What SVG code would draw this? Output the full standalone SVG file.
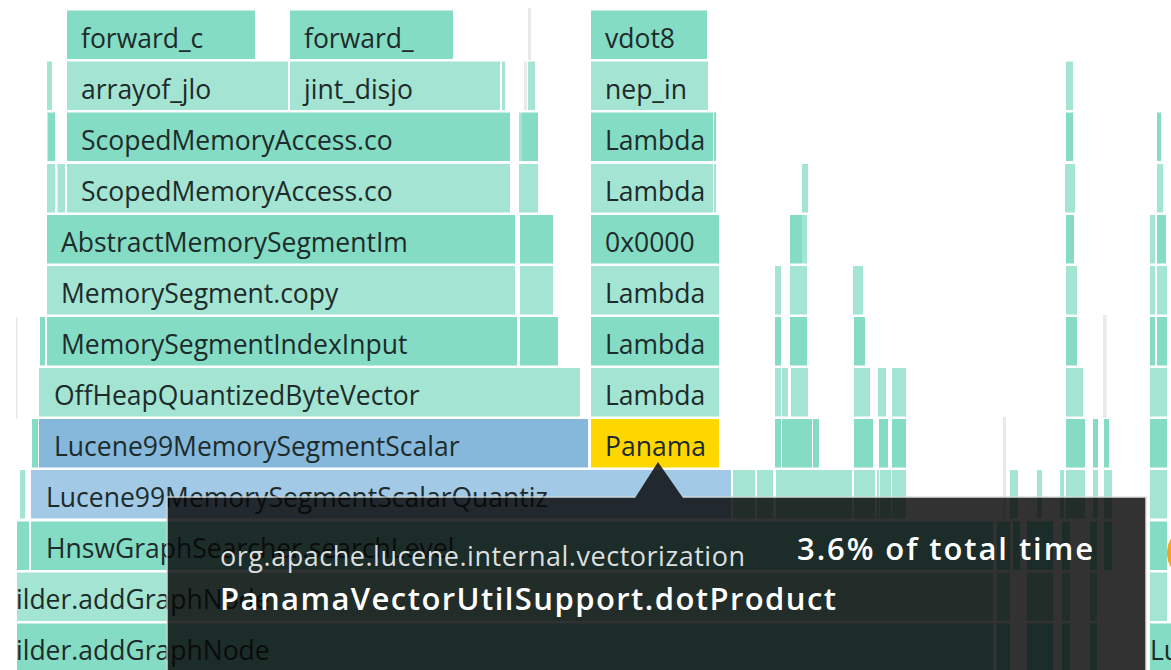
<svg xmlns="http://www.w3.org/2000/svg" width="1171" height="670" viewBox="0 0 1171 670">
  <style>
    .d { fill: #84dcc4; }
    .l { fill: #a3e4d3; }
    .b { fill: #86b8dc; }
    .lb { fill: #a2c9e6; }
    .y { fill: #fed700; }
    .g { fill: #e6eaea; }
    .lbl { font-family: "Open Sans", "Noto Sans", sans-serif; font-size: 26.5px; fill: #1d2b2a; }
    .tip-pkg { font-family: "Open Sans", "Noto Sans", sans-serif; font-size: 27px; fill: #dcdfdf; }
    .tip-fn { font-family: "Open Sans", "Noto Sans", sans-serif; font-size: 31px; font-weight: 600; fill: #ffffff; }
  </style>
  <rect width="1171" height="670" fill="#ffffff"/>

  <!-- flame graph frames, one row per stack depth (row pitch 51px) -->
  <g id="frames">
    <!-- faint guide lines -->
    <rect class="g" x="528" y="8" width="3" height="52"/>
    <rect class="g" x="16" y="317" width="1.5" height="102"/>
    <rect class="g" x="1003" y="417" width="3" height="104"/>
    <rect class="g" x="1103" y="315" width="3.5" height="103"/>

    <!-- row 0 -->
    <g id="forward_c"><rect class="d" x="67" y="10.5" width="188" height="48.5"/><text class="lbl" x="81" y="48">forward_c</text></g>
    <g id="forward_"><rect class="d" x="290" y="10.5" width="163" height="48.5"/><text class="lbl" x="304" y="48">forward_</text></g>
    <g id="vdot8"><rect class="d" x="591" y="10.5" width="116" height="48.5"/><text class="lbl" x="605" y="48">vdot8</text></g>

    <!-- row 1 -->
    <g id="row1-narrow">
      <rect class="l" x="47" y="61.5" width="5" height="48.5"/>
      <rect class="l" x="502" y="61.5" width="3" height="48.5"/>
      <rect class="g" x="524" y="61.5" width="3" height="48.5"/>
      <rect class="l" x="528" y="61.5" width="7" height="48.5"/>
      <rect class="l" x="1066" y="61.5" width="7" height="48.5"/>
    </g>
    <g id="arrayof_jlo"><rect class="l" x="67" y="61.5" width="221" height="48.5"/><text class="lbl" x="81" y="99">arrayof_jlo</text></g>
    <g id="jint_disjo"><rect class="l" x="290" y="61.5" width="210" height="48.5"/><text class="lbl" x="304" y="99">jint_disjo</text></g>
    <g id="nep_in"><rect class="l" x="591" y="61.5" width="117" height="48.5"/><text class="lbl" x="605" y="99">nep_in</text></g>

    <!-- row 2 -->
    <g id="row2-narrow">
      <rect class="d" x="47.5" y="112.5" width="7.5" height="48.5"/>
      <rect class="l" x="519" y="112.5" width="3" height="48.5"/>
      <rect class="d" x="522" y="112.5" width="16" height="48.5"/>
      <rect class="d" x="714" y="112.5" width="2" height="48.5"/>
      <rect class="d" x="1066" y="112.5" width="7" height="48.5"/>
      <rect class="d" x="1157" y="112.5" width="4" height="48.5"/>
    </g>
    <g id="scoped-1"><rect class="d" x="67" y="112.5" width="443" height="48.5"/><text class="lbl" x="81" y="150">ScopedMemoryAccess.co</text></g>
    <g id="lambda-1"><rect class="d" x="591" y="112.5" width="122" height="48.5"/><text class="lbl" x="605" y="150">Lambda</text></g>

    <!-- row 3 -->
    <g id="row3-narrow">
      <rect class="l" x="47" y="164" width="8" height="48.5"/>
      <rect class="l" x="57.5" y="164" width="7.5" height="48.5"/>
      <rect class="l" x="519" y="164" width="3" height="48.5"/>
      <rect class="l" x="522" y="164" width="16" height="48.5"/>
      <rect class="l" x="714" y="164" width="2" height="48.5"/>
      <rect class="l" x="802" y="164" width="6" height="48.5"/>
      <rect class="l" x="1065" y="164" width="10" height="48.5"/>
      <rect class="l" x="1157" y="164" width="6" height="48.5"/>
    </g>
    <g id="scoped-2"><rect class="l" x="67" y="164" width="443" height="48.5"/><text class="lbl" x="81" y="201">ScopedMemoryAccess.co</text></g>
    <g id="lambda-2"><rect class="l" x="591" y="164" width="122" height="48.5"/><text class="lbl" x="605" y="201">Lambda</text></g>

    <!-- row 4 -->
    <g id="row4-narrow">
      <rect class="d" x="520" y="215" width="33" height="48.5"/>
      <rect class="d" x="790" y="215" width="12" height="48.5"/>
      <rect class="l" x="802" y="215" width="5" height="48.5"/>
      <rect class="d" x="1066" y="215" width="8" height="48.5"/>
      <rect class="l" x="1150" y="215" width="5" height="48.5"/>
      <rect class="d" x="1157" y="215" width="9" height="48.5"/>
    </g>
    <g id="abstract-segment"><rect class="d" x="47" y="215" width="468" height="48.5"/><text class="lbl" x="61" y="252">AbstractMemorySegmentIm</text></g>
    <g id="addr-0x0000"><rect class="d" x="591" y="215" width="128" height="48.5"/><text class="lbl" x="605" y="252">0x0000</text></g>

    <!-- row 5 -->
    <g id="row5-narrow">
      <rect class="l" x="520" y="266" width="33" height="48.5"/>
      <rect class="l" x="775" y="266" width="6" height="48.5"/>
      <rect class="l" x="790" y="266" width="17" height="48.5"/>
      <rect class="l" x="853" y="266" width="10" height="48.5"/>
      <rect class="l" x="1066" y="266" width="11" height="48.5"/>
      <rect class="l" x="1150" y="266" width="5" height="48.5"/>
      <rect class="l" x="1157" y="266" width="10" height="48.5"/>
    </g>
    <g id="segment-copy"><rect class="l" x="47" y="266" width="468" height="48.5"/><text class="lbl" x="61" y="303">MemorySegment.copy</text></g>
    <g id="lambda-3"><rect class="l" x="591" y="266" width="128" height="48.5"/><text class="lbl" x="605" y="303">Lambda</text></g>

    <!-- row 6 -->
    <g id="row6-narrow">
      <rect class="d" x="40" y="317" width="5" height="48.5"/>
      <rect class="d" x="520" y="317" width="38" height="48.5"/>
      <rect class="d" x="775" y="317" width="6" height="48.5"/>
      <rect class="d" x="790" y="317" width="17" height="48.5"/>
      <rect class="d" x="854" y="317" width="11" height="48.5"/>
      <rect class="d" x="1066" y="317" width="11" height="48.5"/>
      <rect class="d" x="1150" y="317" width="5" height="48.5"/>
      <rect class="d" x="1157" y="317" width="10" height="48.5"/>
    </g>
    <g id="segment-index-input"><rect class="d" x="47" y="317" width="470" height="48.5"/><text class="lbl" x="61" y="354">MemorySegmentIndexInput</text></g>
    <g id="lambda-4"><rect class="d" x="591" y="317" width="128" height="48.5"/><text class="lbl" x="605" y="354">Lambda</text></g>

    <!-- row 7 -->
    <g id="row7-narrow">
      <rect class="l" x="775" y="368" width="6" height="48.5"/>
      <rect class="l" x="782" y="368" width="6" height="48.5"/>
      <rect class="l" x="791" y="368" width="17" height="48.5"/>
      <rect class="l" x="854" y="368" width="16" height="48.5"/>
      <rect class="l" x="878" y="368" width="8" height="48.5"/>
      <rect class="l" x="892" y="368" width="14" height="48.5"/>
      <rect class="l" x="1066" y="368" width="17" height="48.5"/>
      <rect class="l" x="1150" y="368" width="17" height="48.5"/>
    </g>
    <g id="offheap-vector"><rect class="l" x="39" y="368" width="541" height="48.5"/><text class="lbl" x="54" y="405">OffHeapQuantizedByteVector</text></g>
    <g id="lambda-5"><rect class="l" x="591" y="368" width="128" height="48.5"/><text class="lbl" x="605" y="405">Lambda</text></g>

    <!-- row 8 -->
    <g id="row8-narrow">
      <rect class="d" x="32" y="419" width="6" height="48.5"/>
      <rect class="d" x="775" y="419" width="6" height="48.5"/>
      <rect class="d" x="782" y="419" width="30" height="48.5"/>
      <rect class="d" x="813" y="419" width="6" height="48.5"/>
      <rect class="d" x="854" y="419" width="19" height="48.5"/>
      <rect class="d" x="879" y="419" width="9" height="48.5"/>
      <rect class="d" x="892" y="419" width="14" height="48.5"/>
      <rect class="d" x="1066" y="419" width="19" height="48.5"/>
      <rect class="d" x="1093" y="419" width="5" height="48.5"/>
      <rect class="d" x="1104" y="419" width="5" height="48.5"/>
      <rect class="d" x="1150" y="419" width="17" height="48.5"/>
    </g>
    <g id="scalar-scorer"><rect class="b" x="39" y="419" width="549" height="48.5"/><text class="lbl" x="54" y="456">Lucene99MemorySegmentScalar</text></g>
    <g id="panama"><rect class="y" x="591" y="419" width="128" height="48.5"/><text class="lbl" x="605" y="456">Panama</text></g>

    <!-- row 9 -->
    <g id="row9-narrow">
      <rect class="l" x="20" y="470" width="5" height="48.5"/>
      <rect class="l" x="733" y="470" width="22" height="48.5"/>
      <rect class="l" x="757" y="470" width="16" height="48.5"/>
      <rect class="l" x="776" y="470" width="76" height="48.5"/>
      <rect class="l" x="854" y="470" width="21" height="48.5"/>
      <rect class="l" x="877" y="470" width="2" height="48.5"/>
      <rect class="l" x="880" y="470" width="11" height="48.5"/>
      <rect class="l" x="892" y="470" width="14" height="48.5"/>
      <rect class="l" x="1010" y="470" width="8" height="48.5"/>
      <rect class="l" x="1037" y="470" width="5" height="48.5"/>
      <rect class="l" x="1060" y="470" width="4" height="48.5"/>
      <rect class="l" x="1066" y="470" width="19" height="48.5"/>
      <rect class="l" x="1093" y="470" width="5" height="48.5"/>
      <rect class="l" x="1104" y="470" width="8" height="48.5"/>
      <rect class="l" x="1150" y="470" width="17" height="48.5"/>
    </g>
    <g id="scalar-quantized"><rect class="lb" x="31" y="470" width="700" height="48.5"/><text class="lbl" x="46" y="507">Lucene99MemorySegmentScalarQuantiz</text></g>

    <!-- row 10 -->
    <g id="row10-narrow">
      <rect class="d" x="17" y="521.5" width="12" height="48.5"/>
      <rect class="d" x="997" y="521.5" width="13" height="48.5"/>
      <rect class="d" x="1013" y="521.5" width="7" height="48.5"/>
      <rect class="d" x="1027" y="521.5" width="26" height="48.5"/>
      <rect class="d" x="1062" y="521.5" width="8" height="48.5"/>
      <rect class="d" x="1090" y="521.5" width="7" height="48.5"/>
      <rect class="d" x="1104" y="521.5" width="8" height="48.5"/>
      <rect class="d" x="1150" y="521.5" width="17" height="48.5"/>
    </g>
    <g id="search-level"><rect class="d" x="31" y="521.5" width="962" height="48.5"/><text class="lbl" x="46" y="558">HnswGraphSearcher.searchLevel</text></g>

    <!-- row 11 -->
    <g id="row11-narrow">
      <rect class="l" x="997" y="572.5" width="13" height="48.5"/>
      <rect class="l" x="1027" y="572.5" width="26" height="48.5"/>
      <rect class="l" x="1062" y="572.5" width="8" height="48.5"/>
      <rect class="l" x="1090" y="572.5" width="7" height="48.5"/>
      <rect class="l" x="1150" y="572.5" width="17" height="48.5"/>
    </g>
    <g id="add-graph-node-1"><rect class="l" x="17" y="572.5" width="976" height="48.5"/><text class="lbl" x="16" y="609">ilder.addGraphNode</text></g>

    <!-- row 12 -->
    <g id="row12-narrow">
      <rect class="d" x="997" y="623.5" width="13" height="48.5"/>
      <rect class="d" x="1027" y="623.5" width="26" height="48.5"/>
      <rect class="d" x="1062" y="623.5" width="8" height="48.5"/>
      <rect class="d" x="1090" y="623.5" width="7" height="48.5"/>
    </g>
    <g id="add-graph-node-2"><rect class="d" x="17" y="623.5" width="976" height="48.5"/><text class="lbl" x="16" y="660">ilder.addGraphNode</text></g>
    <g id="lucene-edge"><rect class="d" x="1150" y="623.5" width="21" height="48.5"/><text class="lbl" x="1150" y="660">Lu</text></g>

    <!-- partially visible toolbar icon at the right edge -->
    <circle cx="1195" cy="553" r="26" fill="none" stroke="#f6a21e" stroke-width="4"/>
  </g>

  <!-- hover tooltip for the highlighted frame -->
  <g id="tooltip">
    <g opacity="0.82">
      <rect x="167" y="497" width="979" height="180" fill="#060606" stroke="#d3d9d9" stroke-width="1.5"/>
      <polygon points="635,498 658,462 683,498" fill="#060606"/>
    </g>
    <text class="tip-pkg" x="220" y="566" textLength="525">org.apache.lucene.internal.vectorization</text>
    <text class="tip-fn" x="797" y="560" textLength="296">3.6% of total time</text>
    <text class="tip-fn" x="220" y="610" textLength="616">PanamaVectorUtilSupport.dotProduct</text>
  </g>
</svg>
